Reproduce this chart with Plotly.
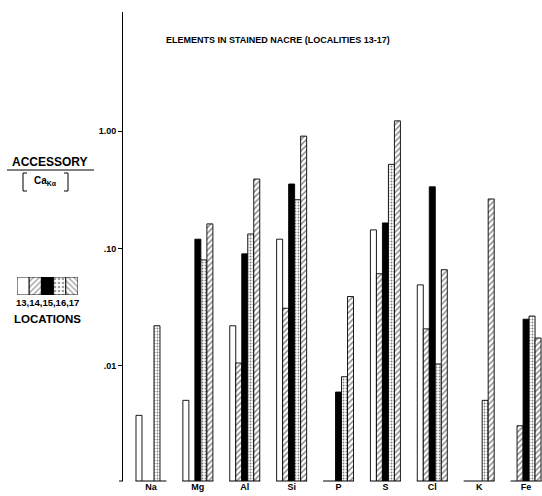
import plotly.graph_objects as go

# ---- data ----
elements = ["Na", "Mg", "Al", "Si", "P", "S", "Cl", "K", "Fe"]
loc13 = [0.0038, 0.0051, 0.022, 0.12, None, 0.144, 0.049, None, None]
loc14 = [None, None, 0.0106, 0.031, None, 0.061, 0.0207, None, 0.0031]
loc15 = [None, 0.12, 0.090, 0.354, 0.0060, 0.165, 0.335, None, 0.025]
loc16 = [0.022, 0.080, 0.133, 0.26, 0.0081, 0.52, 0.0104, 0.0051, 0.0266]
loc17 = [None, 0.162, 0.39, 0.905, 0.039, 1.22, 0.066, 0.264, 0.0173]
locations = ["13", "14", "15", "16", "17"]
tick_vals = [0.01, 0.1, 1.0]
tick_text = [".01", ".10", "1.00"]

W, H = 542, 496
FONT = "Liberation Sans"

styles = {
    "13": dict(color="white", shape=""),
    "14": dict(color="white", shape="/"),
    "15": dict(color="black", shape=""),
    "16": dict(color="white", shape="."),
    "17": dict(color="white", shape="/"),
}

fig = go.Figure()
for name, vals in zip(locations, [loc13, loc14, loc15, loc16, loc17]):
    st = styles[name]
    fig.add_trace(go.Bar(
        x=elements, y=vals, name=name, xaxis="x", yaxis="y",
        marker=dict(
            color=st["color"],
            line=dict(color="black", width=0.9),
            pattern=dict(shape=st["shape"], fgcolor="black", bgcolor=st["color"],
                         size=4 if st["shape"] == "/" else 3,
                         solidity=0.35 if st["shape"] == "/" else 0.3,
                         fillmode="overlay"),
        ),
        showlegend=False,
    ))

# legend swatch strip (drawn as bars on a tiny second axes)
fig.add_trace(go.Bar(
    x=locations, y=[1] * len(locations), xaxis="x2", yaxis="y2", width=1,
    marker=dict(
        color=[styles[k]["color"] for k in locations],
        line=dict(color="black", width=0.9),
        pattern=dict(shape=[styles[k]["shape"] if k != "17" else "\\" for k in locations],
                     fgcolor="black", size=4, solidity=0.35, fillmode="overlay"),
    ),
    showlegend=False,
))

shapes = []
for i in range(len(elements)):
    shapes.append(dict(type="line", xref="x", yref="y domain", x0=i - 0.33, x1=i + 0.33,
                       y0=0, y1=0, line=dict(color="black", width=1)))
# small tick at the foot of the value axis
shapes.append(dict(type="line", xref="paper", yref="y domain", x0=119 / W, x1=123 / W,
                   y0=0, y1=0, line=dict(color="black", width=1)))
# underline of ACCESSORY
shapes.append(dict(type="line", xref="paper", yref="paper", x0=7 / W, x1=94 / W,
                   y0=1 - 170 / H, y1=1 - 170 / H, line=dict(color="black", width=1)))
# brackets around Ca K-alpha
shapes.append(dict(type="path", xref="paper", yref="paper",
                   path=f"M {27/W} {1-173/H} L {23/W} {1-173/H} L {23/W} {1-191/H} L {27/W} {1-191/H}",
                   line=dict(color="black", width=1)))
shapes.append(dict(type="path", xref="paper", yref="paper",
                   path=f"M {64/W} {1-173/H} L {68/W} {1-173/H} L {68/W} {1-191/H} L {64/W} {1-191/H}",
                   line=dict(color="black", width=1)))

def ann(text, px, py, size, **kw):
    return dict(text=text, x=px / W, y=1 - py / H, xref="paper", yref="paper",
                showarrow=False, xanchor="center", yanchor="middle",
                font=dict(family=FONT, size=size, color="black", weight="bold"), **kw)

annotations = [
    ann("ELEMENTS IN STAINED NACRE (LOCALITIES 13-17)", 278, 40, 9),
    ann("ACCESSORY", 50, 162, 12),
    ann("Ca<sub>Kα</sub>", 45, 181, 10),
    ann("13,14,15,16,17", 47, 302, 9.5),
    ann("LOCATIONS", 47, 319, 11.5),
]

fig.update_layout(
    width=W, height=H,
    margin=dict(l=0, r=0, t=0, b=0),
    paper_bgcolor="white", plot_bgcolor="white",
    barmode="group", bargap=0.36, bargroupgap=0,
    xaxis=dict(domain=[123 / W, 1], range=[-0.597, 8.34], showgrid=False, zeroline=False,
               showline=False, ticks="", anchor="y", ticklabelstandoff=-1,
               tickfont=dict(family=FONT, size=9, color="black", weight="bold")),
    yaxis=dict(domain=[1 - 481 / H, 1 - 12 / H], type="log", range=[-2.979, 1.013],
               tickvals=tick_vals, ticktext=tick_text, ticks="outside", ticklen=4,
               tickcolor="black", showline=True, linecolor="black", linewidth=1,
               showgrid=False, zeroline=False, anchor="x",
               tickfont=dict(family=FONT, size=9, color="black", weight="bold")),
    xaxis2=dict(domain=[17 / W, 78 / W], range=[-0.5, 4.5], visible=False, anchor="y2"),
    yaxis2=dict(domain=[1 - 295 / H, 1 - 277 / H], range=[0, 1], visible=False, anchor="x2"),
    shapes=shapes,
    annotations=annotations,
)

fig.write_html("out.html", config={"displayModeBar": False},
               post_script="document.body.style.margin='0px';")
